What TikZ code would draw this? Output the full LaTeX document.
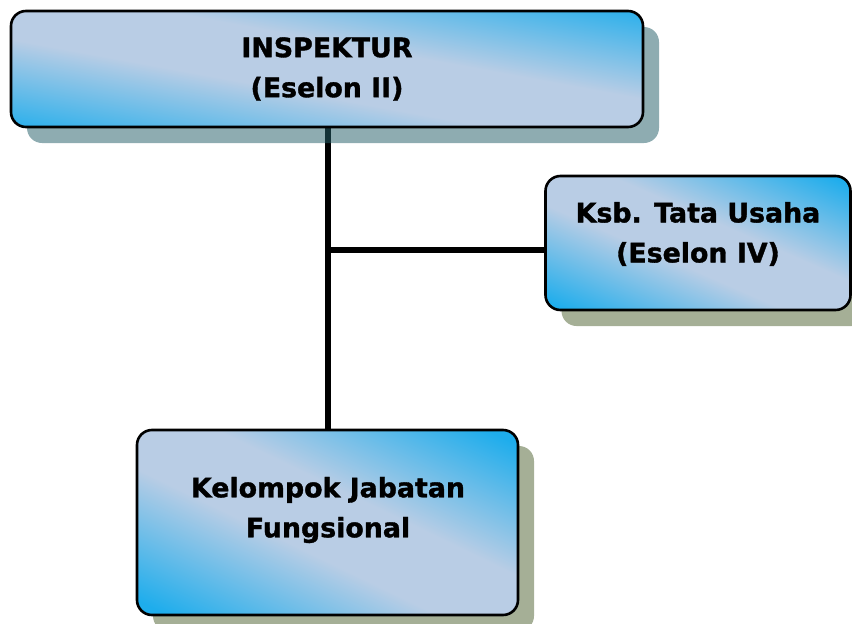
\documentclass[tikz,border=0pt]{standalone}
\usepackage{fontspec}
\setmainfont{DejaVu Sans}
\newfontfamily\orgfont{DejaVu Sans Bold}[FakeBold=1.3]
\usetikzlibrary{shadows}
\definecolor{bblue}{RGB}{30,173,236}
\definecolor{pale}{RGB}{185,205,229}
\definecolor{shadowA}{RGB}{38,96,106}
\definecolor{shadowB}{RGB}{83,102,54}
\pgfdeclarehorizontalshading{orgshade}{100bp}{color(0bp)=(bblue); color(19bp)=(bblue); color(43bp)=(pale); color(57bp)=(pale); color(81bp)=(bblue); color(100bp)=(bblue)}
\begin{document}
\begin{tikzpicture}[x=1pt,y=-1pt,
  orgbox/.style={draw=black, line width=2.6pt, rounded corners=15pt,
    shading=orgshade, inner sep=0pt,
    drop shadow={shadow xshift=16pt, shadow yshift=-16pt, fill=#1, opacity=0.52}},
  orgtext/.style={font=\orgfont\fontsize{26.8}{40}\selectfont, align=center, inner sep=0pt},
  conn/.style={draw=black, line width=6pt}]
\useasboundingbox (0,0) rectangle (852,624);
\coordinate (j) at (327.5,250.3);
\coordinate (vt) at (327.5,69);
\coordinate (vb) at (327.5,522.5);
% connectors first, so boxes and shadows lie over them
\draw[conn] (vt) -- (vb);
\draw[conn] (j) -- (698,250.3) coordinate (hr);
\node[orgbox=shadowA, shading angle=79.6, minimum width=632pt, minimum height=116pt] (insp) at (327,69) {};
\node[orgbox=shadowB, shading angle=66.3, minimum width=305pt, minimum height=134pt] (ksb) at (698,243) {};
\node[orgbox=shadowB, shading angle=64.1, minimum width=381pt, minimum height=185pt] (kjf) at (327.5,522.5) {};
\node[orgtext] (t1) at (327,69) {INSPEKTUR\\(Eselon II)};
\node[orgtext] (t2) at (698,234) {Ksb. Tata Usaha\\(Eselon IV)};
\node[orgtext] (t3) at (328,510) {Kelompok Jabatan\\Fungsional};
\end{tikzpicture}
\end{document}
